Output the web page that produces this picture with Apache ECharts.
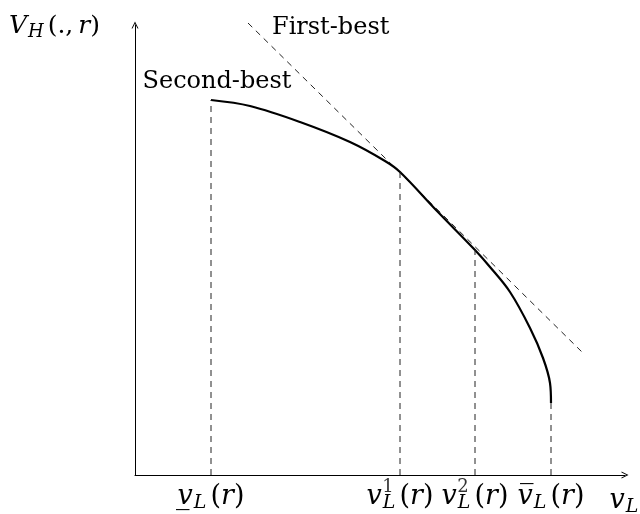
<!DOCTYPE html>
<html>
<head>
<meta charset="utf-8">
<script src="https://cdn.jsdelivr.net/npm/echarts@6/dist/echarts.min.js"></script>
<style>
  html, body { margin: 0; background: #fff; }
  #chart { width: 640px; height: 514px; }
</style>
</head>
<body>
<div id="chart"></div>
<script>
// second-best frontier
const secondBestX = [76, 115, 165, 215, 250, 265, 302, 340, 355, 375, 395, 408, 415, 416]
const secondBestY = [375, 369, 353, 333, 314, 303, 264, 225, 208, 183, 147, 117, 92, 72]
// first-best line (ends)
const firstBestX = [113, 448]
const firstBestY = [452, 122]
// cut-off points on the v_L axis and the height of the frontier there
const cutX = [76, 265, 340, 416]
const cutY = [375, 303, 225, 72]
const cutLabels = [
  '{v|v\u0332}{sub|L}{n|(}{i|r}{n|)}',
  '{v|v}{sub|L}{n|(}{i|r}{n|)}',
  '{v|v}{sub|L}{n|(}{i|r}{n|)}',
  '{v|v\u0305}{sub|L}{n|(}{i|r}{n|)}'
]
const cutSup = ['', '1', '2', '']

const FONT = 'DejaVu Serif'
const mathRich = (size) => ({
  v: { fontFamily: FONT, fontStyle: 'italic', fontSize: size, color: '#000', verticalAlign: 'middle' },
  i: { fontFamily: FONT, fontStyle: 'italic', fontSize: size, color: '#000', verticalAlign: 'middle' },
  n: { fontFamily: FONT, fontSize: size, color: '#000', verticalAlign: 'middle' },
  sub: { fontFamily: FONT, fontStyle: 'italic', fontSize: Math.round(size * 0.7), color: '#000', verticalAlign: 'middle', padding: [13, 4, 0, 1] },
  sup: { fontFamily: FONT, fontSize: Math.round(size * 0.67), color: '#000', verticalAlign: 'middle' }
})
const rich = mathRich(27)

const chart = echarts.init(document.getElementById('chart'))

const dashed = { color: '#222', width: 1, type: [6, 5] }
const hidden = { symbol: 'circle', symbolSize: 0, showSymbol: true }
// open "->" arrow head like the original figure
const arrowHead = 'path://M0,10 L5,0 L10,10 L8.6,10 L5,2.8 L1.4,10 Z'

const cutSeries = cutX.map((x, k) => ({
  type: 'line',
  ...hidden,
  silent: true,
  lineStyle: dashed,
  data: [
    { value: [x, 0], label: { show: true, position: 'bottom', distance: 6, formatter: cutLabels[k], rich } },
    [x, cutY[k]]
  ]
}))

chart.setOption({
  animation: false,
  grid: { left: 135, right: 15, top: 25, bottom: 39, outerBoundsMode: 'none', containLabel: false },
  xAxis: {
    type: 'value', min: 0, max: 490,
    splitLine: { show: false }, axisTick: { show: false }, axisLabel: { show: false },
    axisLine: { onZero: false, symbol: ['none', arrowHead], symbolSize: [9, 7], lineStyle: { color: '#000', width: 1 } },
    name: '{v|v}{sub|L}',
    nameLocation: 'end',
    nameGap: 1,
    nameTextStyle: { align: 'center', verticalAlign: 'top', padding: [10, 0, 0, 0], rich }
  },
  yAxis: {
    type: 'value', min: 0, max: 450,
    splitLine: { show: false }, axisTick: { show: false }, axisLabel: { show: false },
    axisLine: { onZero: false, symbol: ['none', arrowHead], symbolSize: [9, 7], lineStyle: { color: '#000', width: 1 } },
    name: '{v|V}{sub|H}{n|(.,\u2009}{i|r}{n|)}',
    nameLocation: 'end',
    nameGap: -1,
    nameTextStyle: { align: 'right', verticalAlign: 'middle', padding: [0, 35, 0, 0], rich: mathRich(25) }
  },
  series: [
    {
      name: 'First-best',
      type: 'line',
      ...hidden,
      clip: false,
      silent: true,
      lineStyle: dashed,
      data: [
        { value: [firstBestX[0], firstBestY[0]], label: { show: true, position: 'right', offset: [19, 5], formatter: 'First-best', fontFamily: FONT, fontSize: 24, color: '#000' } },
        [firstBestX[1], firstBestY[1]]
      ]
    },
    {
      name: 'Second-best',
      type: 'line',
      ...hidden,
      smooth: 0.35,
      silent: true,
      lineStyle: { color: '#000', width: 2.2 },
      data: secondBestX.map((x, k) => k === 0
        ? { value: [x, secondBestY[k]], label: { show: true, position: 'top', offset: [6, -1], formatter: 'Second-best', fontFamily: FONT, fontSize: 24, color: '#000' } }
        : [x, secondBestY[k]])
    },
    ...cutSeries,
    {
      type: 'scatter',
      symbolSize: 0,
      silent: true,
      data: cutX.map((x, k) => ({ value: [x, 0], label: { show: cutSup[k] !== '', position: 'bottom', distance: 3, offset: [-12, 0], formatter: '{sup|' + cutSup[k] + '}', rich } }))
    }
  ]
})
</script>
</body>
</html>
